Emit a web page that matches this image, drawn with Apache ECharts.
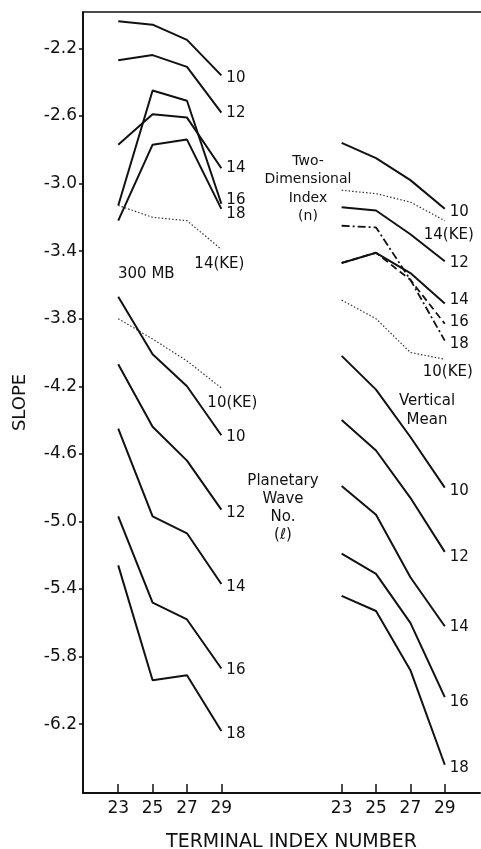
<!DOCTYPE html>
<html>
<head>
<meta charset="utf-8">
<script src="https://cdn.jsdelivr.net/npm/echarts@6/dist/echarts.min.js"></script>
<style>
html,body{margin:0;padding:0;background:#fff;}
#chart{width:481px;height:849px;}
</style>
</head>
<body>
<div id="chart"></div>
<script>
// Terminal index numbers (x categories)
const termIdx = [23, 25, 27, 29];
// y-axis tick labels
const yTicks = [-2.2, -2.6, -3.0, -3.4, -3.8, -4.2, -4.6, -5.0, -5.4, -5.8, -6.2];

// 300 MB, two-dimensional index (n)
const mb300_n10   = [-2.04, -2.06, -2.15, -2.36];
const mb300_n12   = [-2.27, -2.24, -2.31, -2.58];
const mb300_n14   = [-2.77, -2.59, -2.61, -2.91];
const mb300_n16   = [-3.13, -2.45, -2.51, -3.12];
const mb300_n18   = [-3.22, -2.77, -2.74, -3.15];
const mb300_n14KE = [-3.13, -3.20, -3.22, -3.39];
// 300 MB, planetary wave no. (l)
const mb300_l10KE = [-3.80, -3.92, -4.05, -4.21];
const mb300_l10   = [-3.67, -4.01, -4.20, -4.49];
const mb300_l12   = [-4.07, -4.44, -4.64, -4.93];
const mb300_l14   = [-4.45, -4.97, -5.07, -5.37];
const mb300_l16   = [-4.97, -5.48, -5.58, -5.87];
const mb300_l18   = [-5.26, -5.94, -5.91, -6.24];
// Vertical mean, two-dimensional index (n)
const vm_n10   = [-2.76, -2.85, -2.98, -3.15];
const vm_n14KE = [-3.04, -3.06, -3.11, -3.22];
const vm_n12   = [-3.14, -3.16, -3.30, -3.46];
const vm_n14   = [-3.47, -3.41, -3.53, -3.71];
const vm_n16   = [-3.47, -3.41, -3.57, -3.83];
const vm_n18   = [-3.25, -3.26, -3.57, -3.93];
const vm_n10KE = [-3.69, -3.80, -4.00, -4.04];
// Vertical mean, planetary wave no. (l)
const vm_l10 = [-4.02, -4.22, -4.50, -4.80];
const vm_l12 = [-4.40, -4.58, -4.86, -5.18];
const vm_l14 = [-4.79, -4.96, -5.33, -5.62];
const vm_l16 = [-5.19, -5.31, -5.60, -6.04];
const vm_l18 = [-5.44, -5.53, -5.88, -6.44];

// layout constant: horizontal shift of the vertical-mean group on the shared axis
const GROUP_SHIFT = 13;

const FONT = '"DejaVu Sans", "Liberation Sans", sans-serif';
const INK = '#111';

const STYLES = {
  solid:   { color: INK, width: 2, type: 'solid' },
  dotted:  { color: '#333', width: 1.2, type: [1.5, 2] },
  dashed:  { color: INK, width: 1.8, type: [7, 4] },
  dashdot: { color: INK, width: 1.8, type: [8, 3, 2, 3] }
};

function mk(vals, shift, style, text, offset) {
  const data = termIdx.map((t, i) => {
    const item = { value: [t + shift, vals[i]] };
    if (i === termIdx.length - 1) {
      item.label = {
        show: true, position: 'right', distance: 5,
        formatter: () => text, offset: offset,
        color: INK, fontSize: 15, fontFamily: FONT
      };
    }
    return item;
  });
  return {
    type: 'line', data: data, symbol: 'circle', symbolSize: 0,
    showSymbol: true, silent: true, animation: false,
    lineStyle: STYLES[style], itemStyle: { color: INK, opacity: 1 },
    label: { show: false }, emphasis: { disabled: true }, z: 3
  };
}

const series = [
  mk(mb300_n10, 0, 'solid', '10', [0, 3]),
  mk(mb300_n12, 0, 'solid', '12', [0, 1]),
  mk(mb300_n14, 0, 'solid', '14', [0, 0]),
  mk(mb300_n16, 0, 'solid', '16', [0, -4]),
  mk(mb300_n18, 0, 'solid', '18', [0, 5]),
  mk(mb300_n14KE, 0, 'dotted', '14(KE)', [-32, 15]),
  mk(mb300_l10KE, 0, 'dotted', '10(KE)', [-19, 15]),
  mk(mb300_l10, 0, 'solid', '10', [0, 2]),
  mk(mb300_l12, 0, 'solid', '12', [0, 3]),
  mk(mb300_l14, 0, 'solid', '14', [0, 3]),
  mk(mb300_l16, 0, 'solid', '16', [0, 2]),
  mk(mb300_l18, 0, 'solid', '18', [0, 3]),
  mk(vm_n10, GROUP_SHIFT, 'solid', '10', [0, 3]),
  mk(vm_n14KE, GROUP_SHIFT, 'dotted', '14(KE)', [-26, 14]),
  mk(vm_n12, GROUP_SHIFT, 'solid', '12', [0, 2]),
  mk(vm_n14, GROUP_SHIFT, 'solid', '14', [0, -3]),
  mk(vm_n16, GROUP_SHIFT, 'dashed', '16', [0, -2]),
  mk(vm_n18, GROUP_SHIFT, 'dashdot', '18', [0, 3]),
  mk(vm_n10KE, GROUP_SHIFT, 'dotted', '10(KE)', [-27, 13]),
  mk(vm_l10, GROUP_SHIFT, 'solid', '10', [0, 3]),
  mk(vm_l12, GROUP_SHIFT, 'solid', '12', [0, 5]),
  mk(vm_l14, GROUP_SHIFT, 'solid', '14', [0, 1]),
  mk(vm_l16, GROUP_SHIFT, 'solid', '16', [0, 5]),
  mk(vm_l18, GROUP_SHIFT, 'solid', '18', [0, 3])
];

const xTickVals = termIdx.concat(termIdx.map(t => t + GROUP_SHIFT));

const chart = echarts.init(document.getElementById('chart'), null, { renderer: 'canvas' });
chart.setOption({
  backgroundColor: '#fff',
  animation: false,
  grid: { left: 83, right: 1, top: 12, bottom: 56, containLabel: false, outerBoundsMode: 'none', show: false },
  xAxis: {
    type: 'value', min: 20.95, max: 44.05, position: 'bottom',
    axisLine: { show: true, onZero: false, lineStyle: { color: INK, width: 2 } },
    axisTick: { show: true, inside: true, length: 9, customValues: xTickVals, lineStyle: { color: INK, width: 1.5 } },
    axisLabel: {
      show: true, customValues: xTickVals, margin: 7,
      formatter: v => String(v > 29 ? v - GROUP_SHIFT : v),
      color: INK, fontSize: 17, fontFamily: FONT
    },
    splitLine: { show: false },
    name: 'TERMINAL INDEX NUMBER', nameLocation: 'middle', nameGap: 40,
    nameTextStyle: { color: INK, fontSize: 19, fontFamily: FONT, padding: [0, 0, 0, 20] }
  },
  yAxis: {
    type: 'value', min: -6.607, max: -1.985, position: 'left',
    axisLine: { show: true, onZero: false, lineStyle: { color: INK, width: 2 } },
    axisTick: { show: true, inside: false, length: 4, customValues: yTicks, lineStyle: { color: INK, width: 1.5 } },
    axisLabel: {
      show: true, customValues: yTicks, margin: 6,
      formatter: v => v.toFixed(1),
      color: INK, fontSize: 17, fontFamily: FONT
    },
    splitLine: { show: false },
    name: 'SLOPE', nameLocation: 'middle', nameGap: 54, nameRotate: 90,
    nameTextStyle: { color: INK, fontSize: 18, fontFamily: FONT }
  },
  graphic: [
    { type: 'line', silent: true, shape: { x1: 83, y1: 12, x2: 481, y2: 12 },
      style: { stroke: INK, lineWidth: 1.5 } },
    { type: 'text', x: 118, y: 267, silent: true,
      style: { text: '300 MB', fill: INK, font: '15px ' + FONT, align: 'left', verticalAlign: 'top' } },
    { type: 'text', x: 308, y: 152, silent: true,
      style: { text: 'Two-\nDimensional\nIndex\n(n)', fill: INK, font: '14px ' + FONT, align: 'center', verticalAlign: 'top', lineHeight: 18.5 } },
    { type: 'text', x: 427, y: 392, silent: true,
      style: { text: 'Vertical\nMean', fill: INK, font: '15px ' + FONT, align: 'center', verticalAlign: 'top', lineHeight: 19 } },
    { type: 'text', x: 283, y: 472, silent: true,
      style: { text: 'Planetary\nWave\nNo.\n(ℓ)', fill: INK, font: '15px ' + FONT, align: 'center', verticalAlign: 'top', lineHeight: 18 } }
  ],
  series: series
});
</script>
</body>
</html>
